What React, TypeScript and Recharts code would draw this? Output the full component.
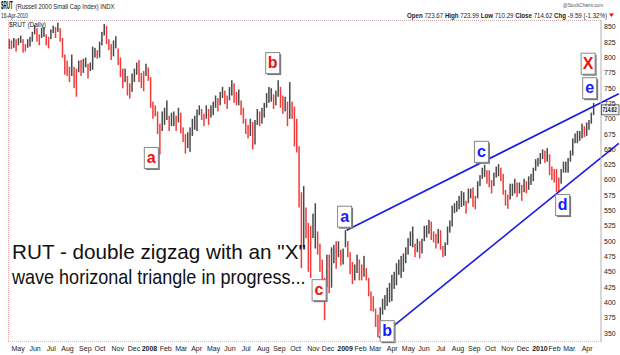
import { ComposedChart, Bar, XAxis, YAxis, ReferenceLine, ReferenceDot } from "recharts";

// x = trading day counted from 2 Jan 2008 (day 0)
const monthTicks = [-170, -148, -127, -106, -83, -64, -41, -20, 0, 21, 41, 61, 83, 104, 125, 147, 168, 189, 212, 231, 253, 273, 292, 314, 335, 355, 377, 399, 420, 441, 463, 483, 505, 524, 543, 566];
const monthLabels = ["May", "Jun", "Jul", "Aug", "Sep", "Oct", "Nov", "Dec", "2008", "Feb", "Mar", "Apr", "May", "Jun", "Jul", "Aug", "Sep", "Oct", "Nov", "Dec", "2009", "Feb", "Mar", "Apr", "May", "Jun", "Jul", "Aug", "Sep", "Oct", "Nov", "Dec", "2010", "Feb", "Mar", "Apr"];
const priceTicks = [350, 375, 400, 425, 450, 475, 500, 525, 550, 575, 600, 625, 650, 675, 700, 725, 750, 775, 800, 825, 850];

// one bar per 3 trading days, first bar centred on 13-17 Apr 2007
const firstBarDay = -181;
const daysPerBar = 3;
const highs = [
    830, 828, 832, 830, // Apr 07
    832, 836, 830, 822, 830, 834, 842,
    853, 848, 838, 848, 850, 838, 834, 846,
    852, 850, 857, 848, 832, 805, 795,
    785, 805, 785, 782, 795, 796, 798,
    800, 790, 792, 818, 816, 812, 826,
    842, 855, 852, 830, 822, 828, 835,
    815, 800, 782, 782, 770, 758, 774,
    782, 792, 796, 775, 778, 790, 784,
    768, 728, 722, 712, 692, 712, 718, // Jan 08
    730, 705, 710, 712, 705, 718, 710,
    686, 675, 678, 686, 700, 705,
    715, 722, 716, 708, 722, 716, 722, 728,
    738, 734, 744, 752, 746, 738, 752,
    763, 758, 744, 748, 730, 718, 700,
    690, 700, 695, 698, 716, 712, 718,
    726, 742, 752, 750, 740, 746, 763,
    752, 738, 736, 728, 760, 728, 720,
    700, 655, 580, 590, 555, 530, 525, 545,
    562, 516, 496, 470, 440, 478,
    478, 490, 494, 500, 500, 486, 488,
    518, 500, 482, 466, 462, 478, 470, // Jan 09
    462, 476, 456, 440, 418, 410,
    390, 380, 392, 406, 412, 424, 432, 445,
    450, 464, 470, 476, 480, 490, 505,
    516, 524, 496, 504, 500, 504,
    525, 526, 535, 532, 516, 512, 520, 518,
    492, 498, 524, 534, 558, 562, 566,
    574, 582, 580, 566, 586, 586, 588,
    574, 598, 608, 620, 625, 616, 616,
    600, 612, 622, 626, 620, 610, 584,
    576, 594, 594, 602, 596, 596, 592,
    602, 598, 606, 610, 620, 634, 636,
    644, 650, 648, 652, 642, 622, 618, // Jan 10
    618, 604, 618, 630, 630, 636,
    648, 668, 676, 680, 680, 692, 688, 694,
    698, 710, 726,
];
const lows = [
    814, 814, 816, 810,
    820, 824, 808, 810, 816, 818, 826,
    838, 826, 820, 832, 834, 820, 815, 830,
    840, 832, 842, 826, 800, 772, 770,
    760, 770, 750, 736, 776, 770, 775,
    784, 766, 778, 780, 800, 798, 800,
    820, 836, 822, 812, 796, 802, 815,
    788, 768, 750, 760, 738, 733, 744,
    760, 772, 760, 750, 745, 770, 762,
    718, 700, 704, 675, 642, 680, 690,
    698, 680, 688, 688, 680, 694, 676,
    662, 643, 652, 646, 672, 682,
    680, 706, 698, 688, 700, 690, 702, 706,
    718, 712, 722, 734, 724, 716, 730,
    738, 726, 722, 722, 706, 692, 675,
    668, 672, 650, 658, 690, 688, 692,
    702, 718, 726, 728, 716, 722, 736,
    718, 708, 712, 688, 700, 700, 655,
    645, 555, 456, 490, 505, 450, 440, 505,
    488, 478, 450, 418, 371, 425,
    415, 424, 464, 455, 474, 460, 462,
    490, 474, 446, 430, 436, 448, 436,
    436, 442, 436, 410, 386, 385,
    360, 343, 350, 380, 388, 394, 400, 402,
    422, 428, 445, 440, 450, 464, 478,
    492, 490, 474, 482, 472, 480,
    500, 506, 512, 502, 498, 488, 496, 486,
    474, 476, 494, 514, 524, 546, 548,
    552, 556, 558, 545, 562, 570, 556,
    552, 570, 590, 602, 605, 594, 588,
    578, 590, 604, 606, 598, 576, 558,
    553, 568, 574, 578, 572, 578, 566,
    580, 578, 584, 592, 598, 615, 622,
    626, 634, 628, 630, 608, 600, 596,
    580, 580, 594, 612, 612, 612,
    630, 640, 660, 660, 664, 668, 670, 672,
    682, 692, 706,
];

const lastClose = 714.62;

// trend lines: [day, price] at each end
const upperTrend = [[255, 518], [607, 741]];
const lowerTrend = [[297, 342.6], [607, 660]];

// wave labels
const waveText = ["a", "b", "c", "a", "b", "c", "d", "e", "X"];
const waveDay = [3, 160, 220, 253, 308, 430, 535, 570, 568];
const wavePrice = [636, 791, 420, 540, 353, 646, 559, 750, 790];
const waveColor = ["#ee1111", "#ee1111", "#ee1111", "#1a1aff", "#1a1aff", "#1a1aff", "#1a1aff", "#1a1aff", "#ee1111"];

const UP = "#4a4a4a";
const DOWN = "#f03c3c";
const FONT = "'Liberation Sans', Arial, sans-serif";

const bars = highs.map((h, i) => ({
    t: firstBarDay + i * daysPerBar,
    range: [lows[i], h],
    up: i === 0 || h + lows[i] >= highs[i - 1] + lows[i - 1],
}));

const BarShape = (p: any) => {
    const top = Math.min(p.y, p.y + p.height);
    const h = Math.max(Math.abs(p.height), 1);
    return <rect x={p.x} y={top} width={p.width} height={h} fill={p.payload.up ? UP : DOWN} />;
};

const MonthTick = ({ x, payload }: any) => {
    const label = monthLabels[monthTicks.indexOf(payload.value)];
    const year = /^\d{4}$/.test(label);
    return (
        <text x={x} y={351} textAnchor="middle" fontSize={7} fontWeight={year ? 700 : 400} fill="#222" fontFamily={FONT}>
            {label}
        </text>
    );
};

const PriceTick = ({ y, payload }: any) => (
    <text x={604} y={y + 2.5} fontSize={7} fill="#222" fontFamily={FONT}>
        {payload.value}
    </text>
);

const WaveBox = (text: string, color: string) => (p: any) => (
    <g>
        <rect x={p.cx - 6} y={p.cy - 9} width={14} height={21} fill="#777" />
        <rect x={p.cx - 7.5} y={p.cy - 10.5} width={14} height={21} fill="#fff" stroke="#888" strokeWidth={1} />
        <text x={p.cx - 0.5} y={p.cy + 5} textAnchor="middle" fontSize={16} fontWeight={700} fill={color} fontFamily={FONT}>
            {text}
        </text>
    </g>
);

const LastBox = (p: any) => (
    <g>
        <rect x={601.5} y={p.cy - 5} width={17.5} height={10} fill="#f2f2f2" stroke="#444" strokeWidth={0.8} />
        <text transform={`translate(602.5 ${p.cy + 2.5}) scale(0.72 1)`} fontSize={6.5} fontWeight={700} fill="#111" fontFamily={FONT}>
            {lastClose.toFixed(2)}
        </text>
    </g>
);

const App = () => {
    return (
        <div style={{ position: "absolute", left: 0, top: 0, width: 620, height: 355, background: "#fff" }}>
            <ComposedChart width={620} height={355} data={bars} margin={{ top: 20, right: 0, bottom: 0, left: 8 }}>
                <XAxis
                    type="number"
                    dataKey="t"
                    domain={[-183, 584]}
                    allowDataOverflow
                    ticks={monthTicks}
                    interval={0}
                    tick={MonthTick}
                    tickLine={false}
                    axisLine={false}
                    height={13}
                />
                <YAxis
                    orientation="right"
                    domain={[335.3, 861.4]}
                    allowDataOverflow
                    ticks={priceTicks}
                    interval={0}
                    tick={PriceTick}
                    tickLine={false}
                    axisLine={{ stroke: "#b0b0b0" }}
                    width={19}
                />
                <Bar dataKey="range" barSize={1.5} shape={BarShape} isAnimationActive={false} />
                <ReferenceLine
                    segment={upperTrend.map(([x, y]) => ({ x, y }))}
                    stroke="#1a1ae6"
                    strokeWidth={1.6}
                    ifOverflow="visible"
                />
                <ReferenceLine
                    segment={lowerTrend.map(([x, y]) => ({ x, y }))}
                    stroke="#1a1ae6"
                    strokeWidth={1.6}
                    ifOverflow="visible"
                />
                {waveText.map((w, i) => (
                    <ReferenceDot
                        key={i}
                        x={waveDay[i]}
                        y={wavePrice[i]}
                        r={0}
                        ifOverflow="visible"
                        shape={WaveBox(w, waveColor[i])}
                    />
                ))}
                <ReferenceDot x={584} y={lastClose} r={0} ifOverflow="visible" shape={LastBox} />
            </ComposedChart>

            {/* header, borders and the note */}
            <svg width={620} height={355} style={{ position: "absolute", left: 0, top: 0, pointerEvents: "none" }}>
                <line x1={8} y1={20.5} x2={601} y2={20.5} stroke="#c8b0b0" strokeDasharray="1 1" />
                <line x1={8.5} y1={20} x2={8.5} y2={342} stroke="#e8a8a8" strokeDasharray="1 1" />
                <line x1={8} y1={341.5} x2={601} y2={341.5} stroke="#e8b8b8" strokeDasharray="1 1" />

                <text transform="translate(1 9) scale(0.45 1)" fontSize={10} fontWeight={700} fill="#111" fontFamily={FONT}>$RUT</text>
                <text x={15.5} y={9} fontSize={6.5} fill="#222" fontFamily={FONT} textLength={99} lengthAdjust="spacingAndGlyphs">(Russell 2000 Small Cap Index) INDX</text>
                <text x={1} y={17.5} fontSize={6.5} fill="#222" fontFamily={FONT} textLength={27} lengthAdjust="spacingAndGlyphs">16-Apr-2010</text>
                <text x={9} y={27} fontSize={7.5} fill="#222" fontFamily={FONT} textLength={37} lengthAdjust="spacingAndGlyphs">$RUT (Daily)</text>
                <text x={563} y={7} fontSize={6} fill="#555" fontFamily={FONT} textLength={40} lengthAdjust="spacingAndGlyphs">@StockCharts.com</text>
                <text x={407} y={17.5} fontSize={6.5} fill="#222" fontFamily={FONT} textLength={200} lengthAdjust="spacingAndGlyphs">
                    <tspan fontWeight={700}>Open</tspan> 723.67 <tspan fontWeight={700}>High</tspan> 723.99 <tspan fontWeight={700}>Low</tspan> 710.29{" "}
                    <tspan fontWeight={700}>Close</tspan> 714.62 <tspan fontWeight={700}>Chg</tspan> -9.59 (-1.32%)
                </text>
                <path d="M609 13.5 L614 13.5 L611.5 17 Z" fill="#dd1111" />

                <text transform="translate(12 259) scale(1.01 1)" fontSize={20.5} fill="#111" fontFamily={FONT}>
                    RUT - double zigzag with an "X"
                </text>
                <text transform="translate(12 284) scale(0.88 1)" fontSize={20.5} fill="#111" fontFamily={FONT}>
                    wave horizonal triangle in progress...
                </text>
            </svg>
        </div>
    );
};

export default App;
